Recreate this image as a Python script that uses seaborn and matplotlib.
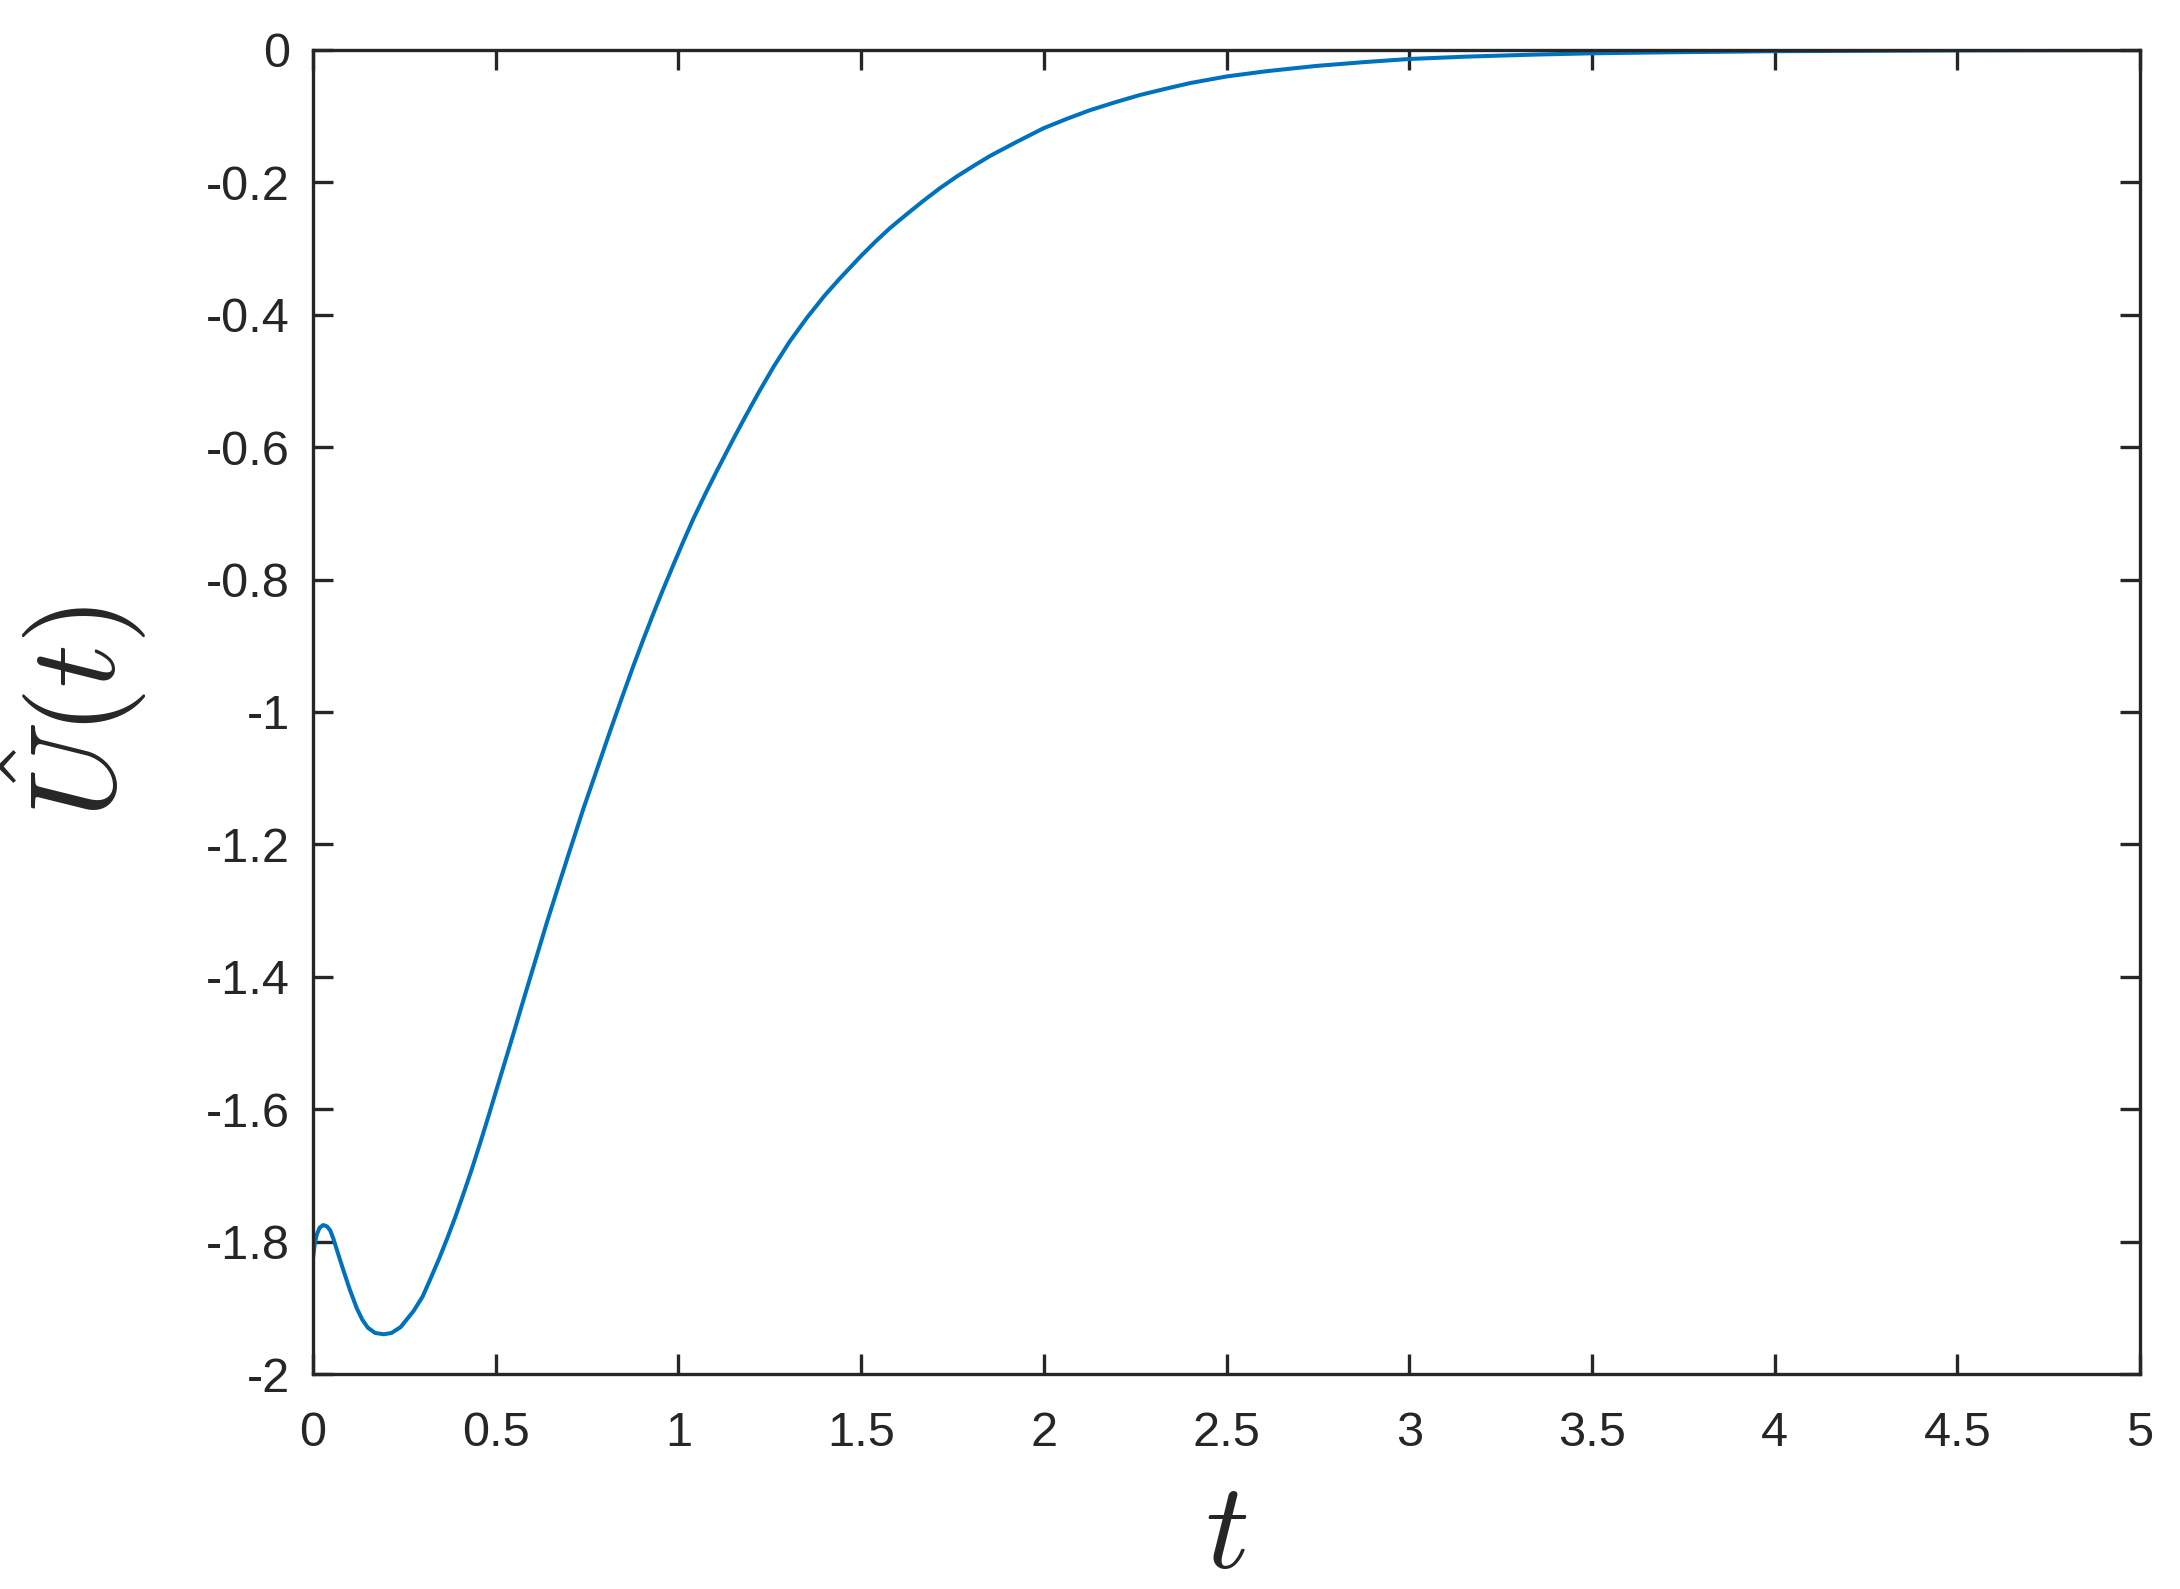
import numpy as np
import pandas as pd
import matplotlib
matplotlib.use('Agg')
import matplotlib.pyplot as plt
import seaborn as sns

# values
t = [0.000, 0.005, 0.010, 0.018, 0.028, 0.038, 0.047, 0.056, 0.065, 0.083,
     0.101, 0.120, 0.135, 0.150, 0.170, 0.194, 0.215, 0.240, 0.275, 0.300,
     0.320, 0.345, 0.366, 0.390, 0.411, 0.435, 0.457, 0.480, 0.503, 0.525,
     0.548, 0.570, 0.594, 0.617, 0.640, 0.671, 0.700, 0.740, 0.777, 0.813,
     0.845, 0.877, 0.905, 0.931, 0.958, 0.986, 1.013, 1.041, 1.075, 1.105,
     1.150, 1.182, 1.220, 1.260, 1.305, 1.351, 1.400, 1.442, 1.500, 1.540,
     1.579, 1.625, 1.670, 1.715, 1.762, 1.808, 1.853, 1.925, 2.000, 2.063,
     2.126, 2.195, 2.263, 2.330, 2.400, 2.500, 2.610, 2.747, 2.884, 3.000,
     3.157, 3.340, 3.500, 3.705, 4.000, 4.500, 5.000]
u = [-1.825, -1.803, -1.790, -1.779, -1.775, -1.777, -1.783, -1.796, -1.812, -1.843,
     -1.873, -1.901, -1.918, -1.930, -1.938, -1.940, -1.938, -1.929, -1.905, -1.883,
     -1.858, -1.826, -1.797, -1.762, -1.729, -1.690, -1.652, -1.611, -1.569, -1.529,
     -1.487, -1.446, -1.402, -1.360, -1.318, -1.264, -1.214, -1.146, -1.087, -1.029,
     -0.979, -0.930, -0.889, -0.852, -0.815, -0.778, -0.743, -0.708, -0.669, -0.636,
     -0.588, -0.555, -0.517, -0.479, -0.440, -0.405, -0.371, -0.345, -0.311, -0.289,
     -0.269, -0.248, -0.228, -0.209, -0.191, -0.175, -0.160, -0.139, -0.118, -0.104,
     -0.091, -0.079, -0.068, -0.059, -0.050, -0.040, -0.032, -0.024, -0.018, -0.0136,
     -0.010, -0.007, -0.005, -0.0035, -0.0018, -0.0006, -0.0002]

xticks = [0, 0.5, 1, 1.5, 2, 2.5, 3, 3.5, 4, 4.5, 5]
xticklabels = ['0', '0.5', '1', '1.5', '2', '2.5', '3', '3.5', '4', '4.5', '5']
yticks = [0, -0.2, -0.4, -0.6, -0.8, -1, -1.2, -1.4, -1.6, -1.8, -2]
yticklabels = ['0', '-0.2', '-0.4', '-0.6', '-0.8', '-1', '-1.2', '-1.4', '-1.6', '-1.8', '-2']

sns.set_theme(style='white')
plt.rcParams['font.family'] = ['Liberation Sans', 'DejaVu Sans']
plt.rcParams['mathtext.fontset'] = 'cm'
plt.rcParams['axes.unicode_minus'] = False

dark = '#262626'
fig = plt.figure(figsize=(21.8, 15.89), dpi=100)
ax = fig.add_axes([313/2180, 1 - 1374/1589, 1827/2180, 1324/1589])

df = pd.DataFrame({'t': t, 'u': u})
sns.lineplot(data=df, x='t', y='u', ax=ax, color='#0072BD', lw=2.9,
             estimator=None, sort=False, solid_joinstyle='round')

ax.set_xlim(0, 5)
ax.set_ylim(-2, 0)
ax.set_xticks(xticks)
ax.set_xticklabels(xticklabels)
ax.set_yticks(yticks)
ax.set_yticklabels(yticklabels)

for s in ax.spines.values():
    s.set_visible(True)
    s.set_color(dark)
    s.set_linewidth(2.4)

ax.tick_params(axis='both', direction='in', length=14.4, width=2.4, color=dark,
               labelcolor=dark, labelsize=35, top=True, right=True,
               bottom=True, left=True)
ax.tick_params(axis='x', pad=27)
ax.tick_params(axis='y', pad=16.5)

ax.set_xlabel(r'$t$', fontsize=88, color=dark)
ax.set_ylabel(r'$\hat{U}(t)$', fontsize=88, color=dark)
ax.xaxis.set_label_coords(0.5, -0.079)
ax.yaxis.set_label_coords(-0.09, 0.5)
ax.grid(False)

fig.savefig('out.png', dpi=100, facecolor='white')
